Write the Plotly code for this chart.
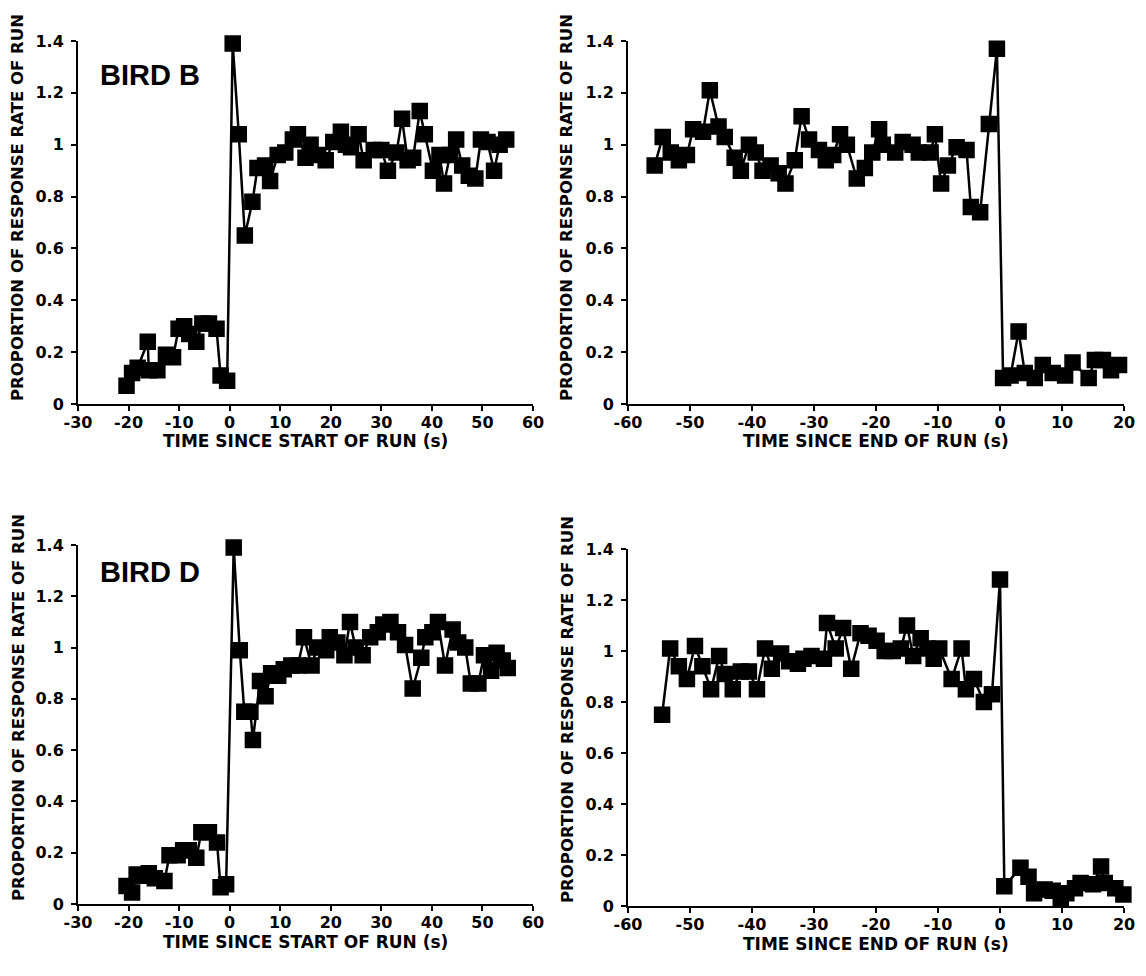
import plotly.graph_objects as go

# ---- Bird B, time since start of run ----
b_start_x = [-20.4, -19.3, -18.2, -16.2, -16.0, -14.3, -12.6, -11.2, -10.1, -9.0, -8.0, -6.6, -5.4, -4.1, -2.6, -1.8, -0.5,
             0.6, 1.8, 3.0, 4.5, 5.5, 7.0, 8.0, 9.5, 11.0, 12.5, 13.5, 15.0, 16.0, 17.5, 19.0, 20.5, 22.0, 23.0, 24.0,
             25.5, 26.5, 28.5, 30.0, 31.3, 33.0, 34.1, 35.2, 36.3, 37.6, 38.6, 40.2, 41.5, 42.4, 43.6, 44.8, 46.0, 47.3,
             48.6, 49.7, 51.0, 52.3, 53.4, 54.7]
b_start_y = [0.07, 0.12, 0.14, 0.24, 0.13, 0.13, 0.19, 0.18, 0.29, 0.30, 0.27, 0.24, 0.31, 0.31, 0.29, 0.11, 0.09,
             1.39, 1.04, 0.65, 0.78, 0.91, 0.92, 0.86, 0.96, 0.97, 1.02, 1.04, 0.95, 1.00, 0.96, 0.94, 1.01, 1.05, 1.00, 0.99,
             1.04, 0.94, 0.98, 0.98, 0.90, 0.97, 1.10, 0.94, 0.95, 1.13, 1.04, 0.90, 0.96, 0.85, 0.96, 1.02, 0.92, 0.88,
             0.87, 1.02, 1.01, 0.90, 1.00, 1.02]

# ---- Bird B, time since end of run ----
b_end_x = [-55.7, -54.4, -53.1, -51.8, -50.5, -49.5, -47.9, -46.8, -45.4, -44.4, -42.8, -41.8, -40.5, -39.4, -38.3,
           -37.0, -35.7, -34.6, -33.1, -32.0, -30.8, -29.2, -28.1, -26.9, -25.8, -24.7, -23.1, -21.8, -20.6, -19.5,
           -18.9, -16.9, -15.7, -14.1, -13.1, -11.2, -10.5, -9.5, -8.4, -7.0, -5.4, -4.7, -3.2, -1.8, -0.5,
           0.5, 1.7, 3.0, 4.0, 5.6, 6.9, 8.5, 10.5, 11.7, 14.3, 15.3, 16.6, 17.9, 19.2]
b_end_y = [0.92, 1.03, 0.97, 0.94, 0.96, 1.06, 1.05, 1.21, 1.07, 1.03, 0.95, 0.90, 1.00, 0.97, 0.90,
           0.92, 0.89, 0.85, 0.94, 1.11, 1.02, 0.98, 0.94, 0.96, 1.04, 1.00, 0.87, 0.91, 0.97, 1.06,
           1.00, 0.97, 1.01, 1.00, 0.97, 0.97, 1.04, 0.85, 0.92, 0.99, 0.98, 0.76, 0.74, 1.08, 1.37,
           0.10, 0.11, 0.28, 0.12, 0.10, 0.15, 0.12, 0.11, 0.16, 0.10, 0.17, 0.17, 0.13, 0.15]

# ---- Bird D, time since start of run ----
d_start_x = [-20.4, -19.3, -18.4, -17.2, -16.0, -14.8, -12.9, -11.9, -10.3, -9.2, -8.1, -6.6, -5.6, -4.1, -2.5, -1.8, -0.7,
             0.8, 2.0, 2.9, 4.1, 4.6, 6.0, 7.1, 8.2, 9.6, 10.7, 12.2, 13.5, 14.7, 16.2, 17.3, 19.1, 19.8, 21.3, 22.7,
             23.8, 24.9, 26.3, 27.8, 29.3, 30.4, 31.8, 33.3, 34.7, 36.2, 37.9, 38.7, 40.1, 41.2, 42.6, 44.1, 45.2, 46.6,
             47.7, 49.2, 50.3, 51.7, 52.8, 54.0, 55.0]
d_start_y = [0.07, 0.045, 0.115, 0.11, 0.12, 0.10, 0.09, 0.19, 0.19, 0.21, 0.21, 0.18, 0.28, 0.28, 0.24, 0.065, 0.077,
             1.39, 0.99, 0.75, 0.75, 0.64, 0.87, 0.81, 0.90, 0.89, 0.915, 0.93, 0.93, 1.04, 0.93, 1.00, 0.99, 1.04, 1.02, 0.97,
             1.10, 1.00, 0.97, 1.04, 1.06, 1.09, 1.10, 1.06, 1.01, 0.84, 0.96, 1.04, 1.06, 1.10, 0.93, 1.07, 1.02, 1.00,
             0.86, 0.86, 0.97, 0.91, 0.98, 0.95, 0.92]

# ---- Bird D, time since end of run ----
d_end_x = [-54.5, -53.2, -51.8, -50.5, -49.2, -48.0, -46.6, -45.3, -44.4, -43.1, -41.8, -40.5, -39.2, -37.9, -36.8,
           -35.3, -34.0, -32.6, -31.7, -30.4, -28.4, -27.9, -26.5, -25.3, -24.0, -22.5, -21.2, -19.9, -18.6, -17.3,
           -16.0, -15.0, -14.0, -12.8, -11.7, -10.7, -9.8, -7.8, -6.2, -5.5, -4.2, -2.6, -1.3, 0.0,
           0.7, 3.3, 4.6, 5.5, 7.2, 8.5, 9.8, 10.7, 12.1, 13.0, 15.0, 16.3, 16.9, 18.6, 19.9]
d_end_y = [0.75, 1.01, 0.94, 0.89, 1.02, 0.94, 0.85, 0.98, 0.91, 0.85, 0.92, 0.92, 0.85, 1.01, 0.93,
           0.99, 0.96, 0.95, 0.97, 0.98, 0.97, 1.11, 1.01, 1.09, 0.93, 1.07, 1.06, 1.04, 1.00, 1.00,
           1.01, 1.10, 0.98, 1.05, 1.01, 0.97, 1.01, 0.89, 1.01, 0.85, 0.89, 0.80, 0.83, 1.28,
           0.077, 0.15, 0.115, 0.05, 0.065, 0.06, 0.03, 0.05, 0.07, 0.09, 0.085, 0.155, 0.09, 0.07, 0.045]

y_ticks = [0, 0.2, 0.4, 0.6, 0.8, 1.0, 1.2, 1.4]
y_tick_text = ["0", "0.2", "0.4", "0.6", "0.8", "1", "1.2", "1.4"]
start_ticks = [-30, -20, -10, 0, 10, 20, 30, 40, 50, 60]
end_ticks = [-60, -50, -40, -30, -20, -10, 0, 10, 20]

x_title_start = "TIME SINCE START OF RUN (s)"
x_title_end = "TIME SINCE END OF RUN (s)"
y_title = "PROPORTION OF RESPONSE RATE OF RUN"
labels = ["BIRD B", "BIRD D"]

FONT = "DejaVu Sans, Liberation Sans, Arial, sans-serif"
LABEL_FONT = "Liberation Sans, Arial, sans-serif"

# page body has an 8px margin; size the figure so it fits the 1146x976 window
OFF = 8
W, H = 1146 - OFF, 976 - OFF
def px_x(a, b):
    return [(a - OFF) / W, (b - OFF) / W]
def px_y(top, bottom):
    return [1 - (bottom - OFF) / H, 1 - (top - OFF) / H]
def ppx(x):
    return (x - OFF) / W
def ppy(y):
    return 1 - (y - OFF) / H

# (x data, y data, x domain, y domain, x range, x ticks, x title, x-title pos, y-title pos)
panels = [
    (b_start_x, b_start_y, px_x(78, 533), px_y(41, 404), [-30, 60], start_ticks, x_title_start, (305, 441), (18, 208)),
    (b_end_x, b_end_y, px_x(628, 1124), px_y(41, 404), [-60, 20], end_ticks, x_title_end, (876, 441), (567, 208)),
    (d_start_x, d_start_y, px_x(78, 533), px_y(545, 904), [-30, 60], start_ticks, x_title_start, (305, 942), (18, 708)),
    (d_end_x, d_end_y, px_x(628, 1124), px_y(549, 906), [-60, 20], end_ticks, x_title_end, (876, 944), (567, 710)),
]

fig = go.Figure()
layout = dict(
    width=W, height=H,
    margin=dict(l=0, r=0, t=0, b=0),
    paper_bgcolor="white", plot_bgcolor="white",
    showlegend=False,
    font=dict(family=FONT, color="black", size=16, weight="bold"),
)

for i, (xs, ys, xd, yd, xr, xt, xtitle, xtp, ytp) in enumerate(panels, start=1):
    xa = "x" if i == 1 else f"x{i}"
    ya = "y" if i == 1 else f"y{i}"
    fig.add_trace(go.Scatter(
        x=xs, y=ys, xaxis=xa, yaxis=ya, mode="lines+markers",
        line=dict(color="black", width=2.5),
        marker=dict(symbol="square", size=15, color="black", line=dict(color="black", width=1.5)),
        cliponaxis=False,
    ))
    xkey = "xaxis" if i == 1 else f"xaxis{i}"
    ykey = "yaxis" if i == 1 else f"yaxis{i}"
    layout[xkey] = dict(
        domain=xd, anchor=ya, range=xr, tickvals=xt, ticktext=[str(v) for v in xt],
        showline=True, linecolor="black", linewidth=2, ticks="outside", ticklen=5, tickwidth=2,
        tickcolor="black", showgrid=False, zeroline=False, automargin=False,
        ticklabelstandoff=-2,
        tickfont=dict(family=FONT, size=16, weight="bold"),
    )
    layout[ykey] = dict(
        domain=yd, anchor=xa, range=[0, 1.4], tickvals=y_ticks, ticktext=y_tick_text,
        showline=True, linecolor="black", linewidth=2, ticks="outside", ticklen=5, tickwidth=2,
        tickcolor="black", showgrid=False, zeroline=False, automargin=False,
        ticklabelstandoff=4,
        tickfont=dict(family=FONT, size=16, weight="bold"),
    )
    fig.add_annotation(x=ppx(xtp[0]), y=ppy(xtp[1]), xref="paper", yref="paper", text=xtitle,
                       showarrow=False, xanchor="center", yanchor="middle",
                       font=dict(family=FONT, size=17, weight="bold", color="black"))
    fig.add_annotation(x=ppx(ytp[0]), y=ppy(ytp[1]), xref="paper", yref="paper", text=y_title,
                       showarrow=False, xanchor="center", yanchor="middle", textangle=-90,
                       font=dict(family=FONT, size=16.5, weight="bold", color="black"))

fig.update_layout(**layout)

fig.add_annotation(x=-26, y=1.27, xref="x", yref="y", text=labels[0], showarrow=False,
                   xanchor="left", yanchor="middle",
                   font=dict(family=LABEL_FONT, size=29, weight="bold", color="black"))
fig.add_annotation(x=-26, y=1.295, xref="x3", yref="y3", text=labels[1], showarrow=False,
                   xanchor="left", yanchor="middle",
                   font=dict(family=LABEL_FONT, size=29, weight="bold", color="black"))

fig.write_html("out.html")
